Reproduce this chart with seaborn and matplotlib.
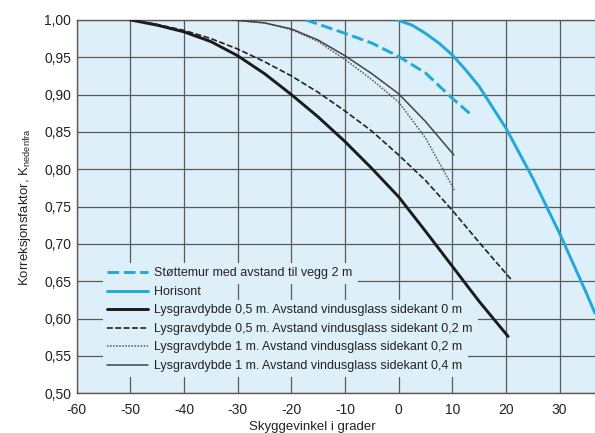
import matplotlib
matplotlib.use("Agg")
import numpy as np
import pandas as pd
import seaborn as sns
import matplotlib.pyplot as plt
from matplotlib.patches import Rectangle

# Støttemur med avstand til vegg 2 m
stotte_x = [-17.3, -10, -5, 0, 5, 10, 13.2]
stotte_y = [1.00, 0.982, 0.969, 0.951, 0.929, 0.895, 0.875]

# Horisont
hor_x = [-0.3, 2.5, 5, 7.5, 10, 12.5, 15, 20, 25, 30, 35, 36.6]
hor_y = [1.00, 0.993, 0.982, 0.969, 0.953, 0.933, 0.911, 0.855, 0.788, 0.714, 0.634, 0.607]

# Lysgravdybde 0,5 m, sidekant 0 m
l05_0_x = [-50, -45, -40, -35, -30, -25, -20, -15, -10, -5, 0, 5, 10, 15, 20.4]
l05_0_y = [1.00, 0.993, 0.984, 0.971, 0.952, 0.928, 0.900, 0.870, 0.837, 0.801,
           0.763, 0.717, 0.670, 0.623, 0.576]

# Lysgravdybde 0,5 m, sidekant 0,2 m
l05_2_x = [-50, -45, -40, -35, -30, -25, -20, -15, -10, -5, 0, 5, 10, 15, 21]
l05_2_y = [1.00, 0.994, 0.986, 0.975, 0.961, 0.944, 0.925, 0.903, 0.878, 0.851,
           0.819, 0.785, 0.745, 0.702, 0.652]

# Lysgravdybde 1 m, sidekant 0,2 m
l1_2_x = [-31, -25, -20, -15, -10, -5, 0, 5, 10.4]
l1_2_y = [1.00, 0.996, 0.987, 0.971, 0.947, 0.920, 0.890, 0.842, 0.772]

# Lysgravdybde 1 m, sidekant 0,4 m
l1_4_x = [-31, -25, -20, -15, -10, -5, 0, 5, 10.3]
l1_4_y = [1.00, 0.996, 0.988, 0.973, 0.952, 0.928, 0.901, 0.864, 0.819]

labels = [
    "Støttemur med avstand til vegg 2 m",
    "Horisont",
    "Lysgravdybde 0,5 m. Avstand vindusglass sidekant 0 m",
    "Lysgravdybde 0,5 m. Avstand vindusglass sidekant 0,2 m",
    "Lysgravdybde 1 m. Avstand vindusglass sidekant 0,2 m",
    "Lysgravdybde 1 m. Avstand vindusglass sidekant 0,4 m",
]

x_ticks = [-60, -50, -40, -30, -20, -10, 0, 10, 20, 30]
y_ticks = [0.50, 0.55, 0.60, 0.65, 0.70, 0.75, 0.80, 0.85, 0.90, 0.95, 1.00]

bg = "#ddeff8"
cyan = "#1fa8dc"
gridc = "#5a5a5a"

sns.set_style("ticks")
plt.rcParams["font.family"] = ["Liberation Sans", "DejaVu Sans"]
plt.rcParams["mathtext.fontset"] = "custom"
plt.rcParams["mathtext.rm"] = "Liberation Sans"

fig = plt.figure(figsize=(5.95, 4.33), dpi=100)
ax = fig.add_axes([0.129, 0.092, 0.871, 0.862])
ax.set_facecolor(bg)

series = [
    (stotte_x, stotte_y, dict(color=cyan, lw=2.1, dashes=(4, 1.6))),
    (hor_x, hor_y, dict(color=cyan, lw=2.1)),
    (l05_0_x, l05_0_y, dict(color="#1a1a1a", lw=2.1)),
    (l05_2_x, l05_2_y, dict(color="#222222", lw=1.2, dashes=(3.5, 1.5))),
    (l1_2_x, l1_2_y, dict(color="#555555", lw=1.1, dashes=(1, 1))),
    (l1_4_x, l1_4_y, dict(color="#444444", lw=1.1)),
]
for (xs, ys, kw), lab in zip(series, labels):
    df = pd.DataFrame({"x": xs, "y": ys})
    sns.lineplot(data=df, x="x", y="y", ax=ax, label=lab, color=kw["color"],
                 linewidth=kw["lw"], zorder=3)
    if "dashes" in kw:
        ax.lines[-1].set_dashes(kw["dashes"])

ax.set_xlim(-60, 36.6)
ax.set_ylim(0.50, 1.00)
ax.set_xticks(x_ticks)
ax.set_xticklabels([str(t) for t in x_ticks])
ax.set_yticks(y_ticks)
ax.set_yticklabels([f"{t:.2f}".replace(".", ",") for t in y_ticks])
ax.tick_params(length=0, labelsize=10, colors="#222222")
ax.tick_params(axis="x", pad=7)
ax.tick_params(axis="y", pad=4)
ax.grid(True, color=gridc, linewidth=0.9)
ax.set_axisbelow(True)
for s in ["left", "bottom", "top"]:
    ax.spines[s].set_color(gridc)
    ax.spines[s].set_linewidth(1.0)
ax.spines["right"].set_visible(False)

ax.set_xlabel("Skyggevinkel i grader", fontsize=9.5, color="#222222")
ax.xaxis.set_label_coords(0.454, -0.075)
ax.set_ylabel(r"Korreksjonsfaktor, K$_{\mathrm{nedenfra}}$", fontsize=9.5, color="#222222")
ax.yaxis.set_label_coords(-0.085, 0.5)

leg = ax.legend(loc="upper left", bbox_to_anchor=(0.058, 0.337), frameon=False,
                fontsize=9, handlelength=3.3, handletextpad=0.45,
                labelspacing=0.52, borderpad=0, borderaxespad=0)
for t in leg.get_texts():
    t.set_color("#222222")

# mask the grid behind each legend row
fig.canvas.draw()
inv = ax.transAxes.inverted()
lx0 = leg.get_window_extent().x0 - 4
texts = leg.get_texts()
boxes = [t.get_window_extent() for t in texts]
step = boxes[0].y0 - boxes[1].y0
for bb in boxes:
    yc = (bb.y0 + bb.y1) / 2
    (ax0, ay0) = inv.transform((lx0, yc - step / 2 - 1.5))
    (ax1, ay1) = inv.transform((bb.x1 + 6, yc + step / 2 + 1.5))
    ax.add_patch(Rectangle((ax0, ay0), ax1 - ax0, ay1 - ay0, transform=ax.transAxes,
                           facecolor=bg, edgecolor="none", zorder=1))

fig.savefig("out.png", dpi=100)
